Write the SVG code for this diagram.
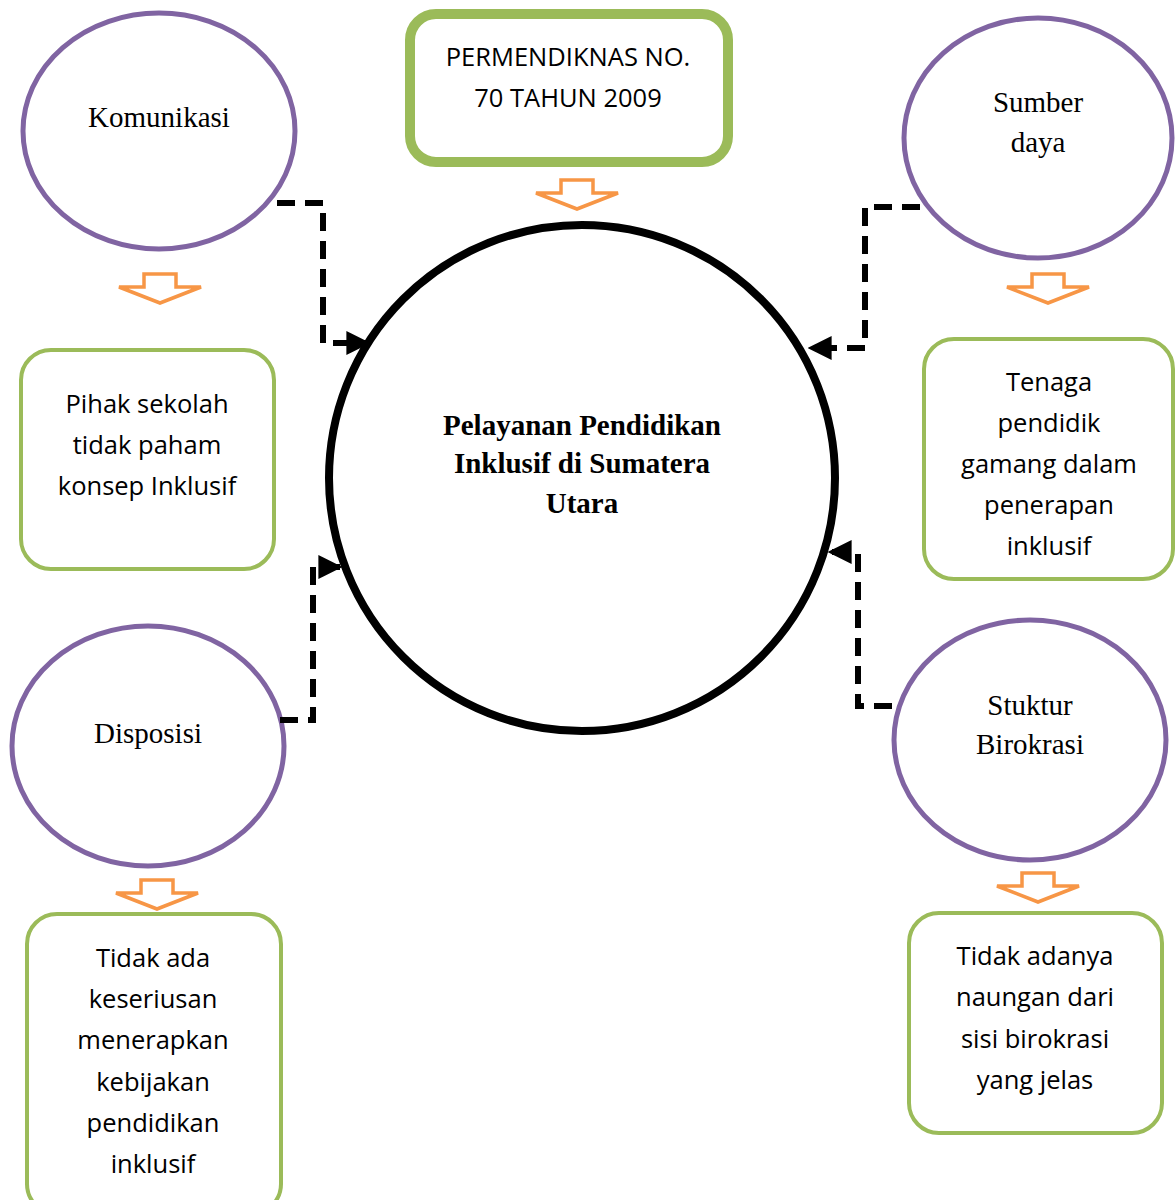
<svg xmlns="http://www.w3.org/2000/svg" width="1176" height="1200" viewBox="0 0 1176 1200">
<style>
.ell{fill:#fff;stroke:#8064A2;stroke-width:5}
.box{fill:#fff;stroke:#9BBB59;stroke-width:4}
.ser{font-family:"Liberation Serif",serif;font-size:29px;fill:#000;text-anchor:middle}
.bold{font-family:"Liberation Serif",serif;font-size:29px;font-weight:bold;fill:#000;text-anchor:middle}
.san{font-family:"Open Sans",sans-serif;font-size:25.5px;fill:#000;text-anchor:middle}
.oa{fill:#fff;stroke:#F79646;stroke-width:3.5;stroke-linejoin:miter}
.dash{fill:none;stroke:#000;stroke-width:6;stroke-dasharray:18 10}
</style>
<defs>
<path id="oarrow" d="M-16,0 H16 V13 H41 L0,29 L-41,13 H-16 Z"/>
<marker id="ah" viewBox="0 0 10 10" refX="9" refY="5" markerWidth="4" markerHeight="4" markerUnits="strokeWidth" orient="auto">
<path d="M0,0 L10,5 L0,10 Z" fill="#000"/>
</marker>
</defs>
<g id="center">
<circle cx="582" cy="478" r="253" fill="#fff" stroke="#000" stroke-width="8"/>
<text class="bold" x="582" y="435">Pelayanan Pendidikan</text>
<text class="bold" x="582" y="473">Inklusif di Sumatera</text>
<text class="bold" x="582" y="513">Utara</text>
</g>
<g id="permendiknas">
<rect x="410" y="14" width="318" height="148" rx="26" fill="#fff" stroke="#9BBB59" stroke-width="10"/>
<text class="san" x="568" y="66">PERMENDIKNAS NO.</text>
<text class="san" x="568" y="107">70 TAHUN 2009</text>
</g>
<g id="komunikasi">
<ellipse class="ell" cx="159" cy="131" rx="136" ry="118"/>
<text class="ser" x="159" y="127">Komunikasi</text>
</g>
<g id="sumberdaya">
<ellipse class="ell" cx="1038" cy="138" rx="134" ry="120"/>
<text class="ser" x="1038" y="112">Sumber</text>
<text class="ser" x="1038" y="152">daya</text>
</g>
<g id="disposisi">
<ellipse class="ell" cx="148" cy="746" rx="136" ry="120"/>
<text class="ser" x="148" y="743">Disposisi</text>
</g>
<g id="struktur">
<ellipse class="ell" cx="1030" cy="740" rx="136" ry="120"/>
<text class="ser" x="1030" y="715">Stuktur</text>
<text class="ser" x="1030" y="754">Birokrasi</text>
</g>
<g id="pihak">
<rect class="box" x="21" y="350" width="253" height="219" rx="30"/>
<text class="san" x="147" y="413">Pihak sekolah</text>
<text class="san" x="147" y="454">tidak paham</text>
<text class="san" x="147" y="495">konsep Inklusif</text>
</g>
<g id="tenaga">
<rect class="box" x="924" y="339" width="249" height="240" rx="30"/>
<text class="san" x="1049" y="391">Tenaga</text>
<text class="san" x="1049" y="432">pendidik</text>
<text class="san" x="1049" y="473">gamang dalam</text>
<text class="san" x="1049" y="514">penerapan</text>
<text class="san" x="1049" y="555">inklusif</text>
</g>
<g id="tidakada">
<rect class="box" x="27" y="914" width="254" height="300" rx="30"/>
<text class="san" x="153" y="967">Tidak ada</text>
<text class="san" x="153" y="1008">keseriusan</text>
<text class="san" x="153" y="1049">menerapkan</text>
<text class="san" x="153" y="1091">kebijakan</text>
<text class="san" x="153" y="1132">pendidikan</text>
<text class="san" x="153" y="1173">inklusif</text>
</g>
<g id="tidakadanya">
<rect class="box" x="909" y="913" width="253" height="220" rx="30"/>
<text class="san" x="1035" y="965">Tidak adanya</text>
<text class="san" x="1035" y="1006">naungan dari</text>
<text class="san" x="1035" y="1048">sisi birokrasi</text>
<text class="san" x="1035" y="1089">yang jelas</text>
</g>
<g id="connectors">
<use href="#oarrow" class="oa" transform="translate(577,180)"/>
<use href="#oarrow" class="oa" transform="translate(160,274)"/>
<use href="#oarrow" class="oa" transform="translate(1048,274)"/>
<use href="#oarrow" class="oa" transform="translate(157,880)"/>
<use href="#oarrow" class="oa" transform="translate(1038,873)"/>
<path class="dash" d="M277,203 H323 V343 H368" marker-end="url(#ah)"/>
<path class="dash" d="M920,207 H865 V348 H810" marker-end="url(#ah)"/>
<path class="dash" d="M280,720 H313 V567 H340" marker-end="url(#ah)"/>
<path class="dash" d="M892,706 H858 V552 H830" marker-end="url(#ah)"/>
</g>
</svg>
